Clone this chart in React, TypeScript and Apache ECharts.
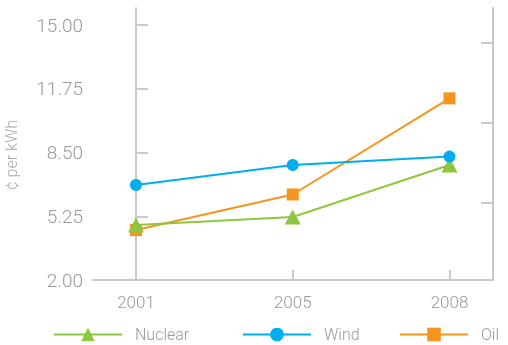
import React, { useEffect, useRef } from "react";
import * as echarts from "echarts";

// Cost of electricity by source, cents per kWh
const years = ["2001", "2005", "2008"];
const nuclear = [4.8, 5.21, 7.86];
const wind = [6.84, 7.86, 8.29];
const oil = [4.55, 6.36, 11.26];
const yTicks = [2, 5.25, 8.5, 11.75, 15];
const rightTicks = [5.93, 10.0, 14.08];

const FONT = "Roboto, 'Liberation Sans', sans-serif";
const AXIS = "#c9c9c9";
const LABEL = "#999999";

const toPoints = (vals: number[]) => vals.map((v, i) => [i, v]);

export default function App() {
  const ref = useRef<HTMLDivElement>(null);

  useEffect(() => {
    if (!ref.current) return;
    const chart = echarts.init(ref.current, undefined, { renderer: "svg" });

    const legendBase = {
      top: 326,
      padding: 0,
      itemWidth: 68,
      itemHeight: 17,
      selectedMode: false,
      textStyle: {
        color: LABEL,
        fontFamily: FONT,
        fontWeight: 300,
        fontSize: 16,
        lineHeight: 17,
        padding: [0, 0, 0, 8],
      },
    };

    chart.setOption({
      animation: false,
      grid: { left: 93, right: 15, top: 8, bottom: 65 },
      xAxis: {
        type: "value",
        min: -0.2743,
        max: 2.2775,
        splitLine: { show: false },
        axisLine: { show: true, lineStyle: { color: AXIS, width: 2 } },
        axisTick: {
          show: true,
          inside: true,
          length: 10,
          customValues: [0, 1, 2],
          lineStyle: { color: AXIS, width: 2 },
        },
        axisLabel: {
          customValues: [0, 1, 2],
          formatter: (v: number) => years[Math.round(v)] ?? "",
          color: LABEL,
          fontFamily: FONT,
          fontWeight: 300,
          fontSize: 17,
          margin: 13,
        },
      },
      yAxis: [
        {
          type: "value",
          position: "left",
          min: 2,
          max: 15.867,
          splitLine: { show: false },
          axisLine: { show: true, lineStyle: { color: AXIS, width: 2 } },
          axisTick: {
            show: true,
            inside: true,
            length: 12,
            customValues: yTicks,
            lineStyle: { color: AXIS, width: 2 },
          },
          axisLabel: {
            customValues: yTicks,
            formatter: (v: number) => v.toFixed(2),
            color: LABEL,
            fontFamily: FONT,
            fontWeight: 300,
            fontSize: 19,
            margin: 10,
          },
        },
        {
          type: "value",
          position: "right",
          min: 2,
          max: 15.867,
          splitLine: { show: false },
          axisLine: { show: true, lineStyle: { color: AXIS, width: 2 } },
          axisTick: {
            show: true,
            inside: true,
            length: 12,
            customValues: rightTicks,
            lineStyle: { color: AXIS, width: 2 },
          },
          axisLabel: { show: false },
        },
      ],
      legend: [
        { ...legendBase, left: 53, data: ["Nuclear"] },
        { ...legendBase, left: 242, data: ["Wind"] },
        { ...legendBase, left: 399, data: ["Oil"] },
      ],
      graphic: [
        {
          type: "text",
          x: 11,
          y: 155,
          rotation: Math.PI / 2,
          style: {
            text: "¢ per kWh",
            fill: "#aaaaaa",
            font: `300 16px ${FONT}`,
            align: "center",
            verticalAlign: "middle",
          },
        },
      ],
      series: [
        {
          name: "Nuclear",
          type: "line",
          z: 3,
          data: toPoints(nuclear),
          symbol: "triangle",
          symbolSize: [16, 15],
          lineStyle: { color: "#8dc63f", width: 2 },
          itemStyle: { color: "#8dc63f" },
        },
        {
          name: "Wind",
          type: "line",
          z: 4,
          data: toPoints(wind),
          symbol: "circle",
          symbolSize: 12,
          lineStyle: { color: "#00aeef", width: 2 },
          itemStyle: { color: "#00aeef" },
        },
        {
          name: "Oil",
          type: "line",
          z: 2,
          data: toPoints(oil),
          symbol: "rect",
          symbolSize: 12,
          lineStyle: { color: "#f7941d", width: 2 },
          itemStyle: { color: "#f7941d" },
        },
      ],
    });

    return () => chart.dispose();
  }, []);

  return (
    <div
      ref={ref}
      style={{ position: "fixed", left: 0, top: 0, width: 508, height: 345 }}
    />
  );
}
